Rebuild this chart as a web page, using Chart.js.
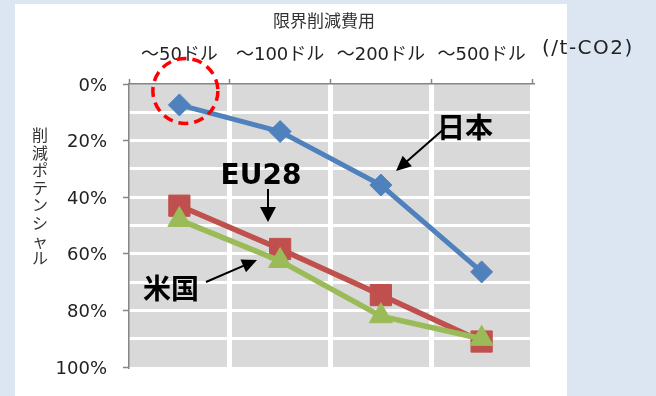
<!DOCTYPE html>
<html>
<head>
<meta charset="utf-8">
<script src="https://cdn.jsdelivr.net/npm/chart.js@4.4.0/dist/chart.umd.min.js"></script>
<style>
  html, body { margin: 0; padding: 0; background: #dce6f2; }
</style>
</head>
<body>
<canvas id="mac" width="656" height="396"></canvas>
<script>
// 限界削減費用ごとの削減ポテンシャル（累積、%）
const costBands = ['～50ドル', '～100ドル', '～200ドル', '～500ドル'];
const japan = [7.4, 16.8, 35.7, 66.4];
const eu28 = [43, 58.3, 74.6, 91];
const usa = [48, 62.5, 82, 90];
const percentTicks = [0, 20, 40, 60, 80, 100];

const FONT = "'DejaVu Sans', 'Noto Sans CJK JP', sans-serif";
const JP = "'Noto Sans CJK JP', sans-serif";
const AXIS_GRAY = '#868686';
const CLEAR = 'rgba(0,0,0,0)';

// panel + grey plot area behind everything
const backdrop = {
  id: 'backdrop',
  beforeDraw(chart) {
    const { ctx, chartArea: a } = chart;
    ctx.save();
    ctx.fillStyle = '#dce6f2';
    ctx.fillRect(0, 0, chart.width, chart.height);
    ctx.fillStyle = '#ffffff';
    ctx.fillRect(15, 4, 552, chart.height - 4);
    ctx.fillStyle = '#d9d9d9';
    ctx.fillRect(a.left, a.top, a.right - a.left, a.bottom - a.top);
    ctx.restore();
  }
};

function arrow(ctx, x1, y1, x2, y2, len, half) {
  const ang = Math.atan2(y2 - y1, x2 - x1);
  const c = Math.cos(ang), s = Math.sin(ang);
  ctx.beginPath();
  ctx.moveTo(x1, y1);
  ctx.lineTo(x2 - c * len * 0.7, y2 - s * len * 0.7);
  ctx.lineWidth = 2;
  ctx.stroke();
  ctx.beginPath();
  ctx.moveTo(x2, y2);
  ctx.lineTo(x2 - c * len - s * half, y2 - s * len + c * half);
  ctx.lineTo(x2 - c * len + s * half, y2 - s * len - c * half);
  ctx.closePath();
  ctx.fill();
}

// titles, callouts and the dashed circle
const notes = {
  id: 'notes',
  afterDraw(chart) {
    const { ctx } = chart;
    ctx.save();
    ctx.fillStyle = '#333';
    ctx.textAlign = 'center';
    ctx.textBaseline = 'middle';
    ctx.font = '17px ' + JP;
    ctx.fillText('限界削減費用', 324, 21);

    ctx.fillStyle = '#222';
    ctx.textAlign = 'left';
    ctx.font = '20px ' + FONT;
    ctx.letterSpacing = '1.5px';
    ctx.fillText('(/t-CO2)', 542, 49);
    ctx.letterSpacing = '0px';

    // vertical axis title, one character per row
    ctx.fillStyle = '#333';
    ctx.textAlign = 'center';
    ctx.font = '16px ' + JP;
    [...'削減ポテンシャル'].forEach((ch, i) => ctx.fillText(ch, 40, 135 + i * 17.6));

    // dashed ring around Japan's first point
    const p = chart.getDatasetMeta(0).data[0];
    ctx.strokeStyle = '#ff0000';
    ctx.lineWidth = 3.5;
    ctx.setLineDash([10, 6]);
    ctx.beginPath();
    ctx.arc(p.x + 6, p.y - 14, 32.5, 0, Math.PI * 2);
    ctx.stroke();
    ctx.setLineDash([]);

    ctx.fillStyle = '#000';
    ctx.strokeStyle = '#000';
    ctx.font = 'bold 28px ' + JP;
    ctx.fillText('日本', 465, 127);
    ctx.fillText('米国', 171, 288);
    ctx.font = 'bold 28px ' + FONT;
    ctx.fillText('EU28', 261, 177);

    arrow(ctx, 445, 128, 396, 171, 15, 7);
    arrow(ctx, 268, 189, 268, 222, 15, 8);
    arrow(ctx, 206, 282, 257, 260, 15, 7);
    ctx.restore();
  }
};

new Chart(document.getElementById('mac'), {
  type: 'line',
  data: {
    labels: costBands,
    datasets: [
      {
        label: '日本', data: japan, order: 2,
        borderColor: '#4f81bd', backgroundColor: '#4f81bd',
        borderWidth: 5, pointStyle: 'rectRot', pointRadius: 11, pointBorderWidth: 1
      },
      {
        label: 'EU28', data: eu28, order: 1,
        borderColor: '#c0504d', backgroundColor: '#c0504d',
        borderWidth: 5.5, pointStyle: 'rect', pointRadius: 15, pointBorderWidth: 1
      },
      {
        label: '米国', data: usa, order: 0,
        borderColor: '#9bbb59', backgroundColor: '#9bbb59',
        borderWidth: 5.5, pointStyle: 'triangle', pointRadius: 13.3, pointBorderWidth: 1
      }
    ]
  },
  options: {
    responsive: false,
    devicePixelRatio: 1,
    animation: false,
    layout: { padding: { left: 0, top: 0, right: 124, bottom: 29 } },
    elements: { line: { tension: 0 } },
    plugins: { legend: { display: false }, tooltip: { enabled: false } },
    scales: {
      x: {
        position: 'top',
        offset: true,
        grid: {
          offset: true,
          color: c => (c.index === 0 || c.index === costBands.length) ? CLEAR : '#ffffff',
          lineWidth: 5,
          tickColor: AXIS_GRAY,
          tickLength: 5,
          tickWidth: 1.5
        },
        border: { color: AXIS_GRAY, width: 1.5 },
        ticks: {
          color: '#222',
          font: { family: FONT, size: 18 },
          padding: 13,
          maxRotation: 0,
          autoSkip: false
        },
        afterFit(s) { s.height = 84; }
      },
      y: {
        reverse: true,
        min: 0,
        max: 100,
        grid: {
          color: c => (c.tick.value === 0 || c.tick.value === 100) ? CLEAR : '#ffffff',
          lineWidth: 3,
          tickColor: c => percentTicks.includes(c.tick.value) ? AXIS_GRAY : CLEAR,
          tickLength: 6,
          tickWidth: 1.5
        },
        border: { color: AXIS_GRAY, width: 1.5 },
        ticks: {
          stepSize: 10,
          color: '#222',
          font: { family: FONT, size: 18 },
          padding: 16,
          labelOffset: 2,
          callback: v => percentTicks.includes(v) ? v + '%' : ''
        },
        afterFit(s) { s.width = 129; }
      }
    }
  },
  plugins: [backdrop, notes]
});
</script>
</body>
</html>
